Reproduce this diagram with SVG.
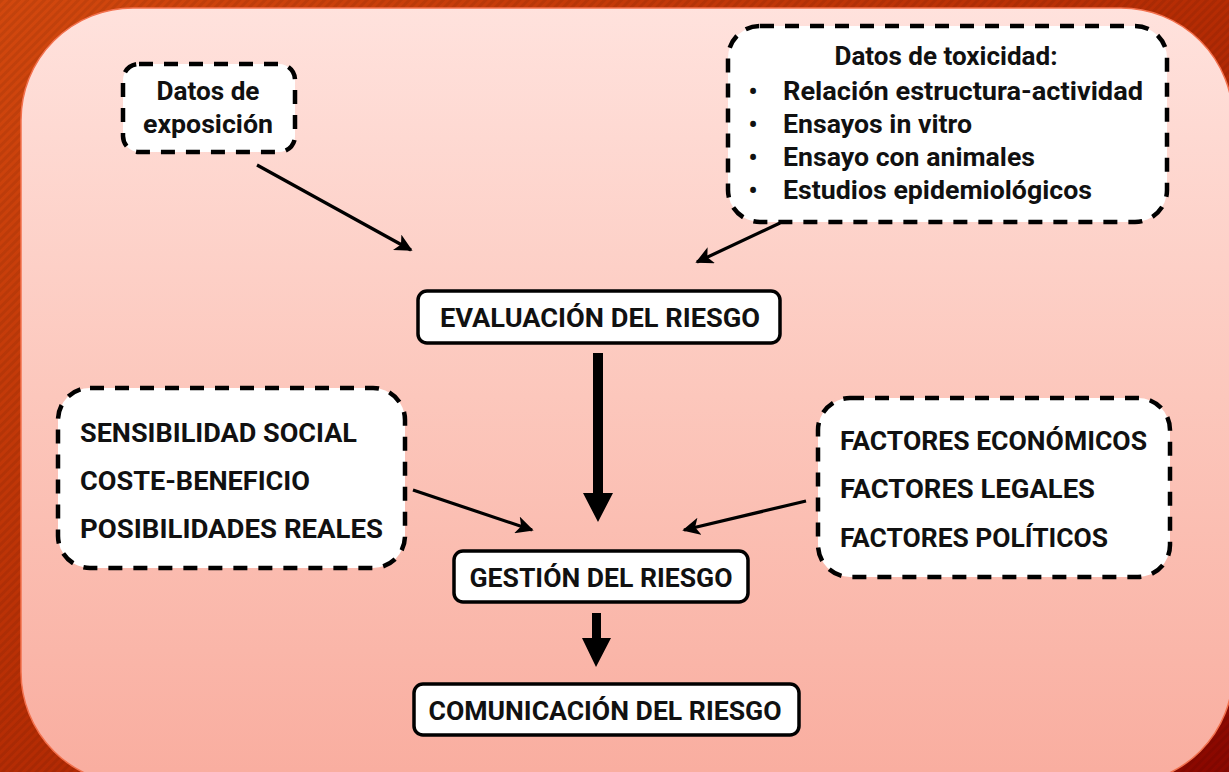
<svg xmlns="http://www.w3.org/2000/svg" width="1229" height="772" viewBox="0 0 1229 772">
  <defs>
    <linearGradient id="bgGrad" x1="0" y1="0" x2="1" y2="1">
      <stop offset="0" stop-color="#D2480E"/>
      <stop offset="0.5" stop-color="#B52C04"/>
      <stop offset="1" stop-color="#8A0700"/>
    </linearGradient>
    <pattern id="stripes" width="6" height="6" patternUnits="userSpaceOnUse" patternTransform="rotate(45)">
      <rect width="3" height="6" fill="#000" fill-opacity="0.07"/>
    </pattern>
    <linearGradient id="panelGrad" x1="0" y1="0" x2="0" y2="1">
      <stop offset="0" stop-color="#FFE2DD"/>
      <stop offset="0.5" stop-color="#FCC7BC"/>
      <stop offset="1" stop-color="#F9AD9F"/>
    </linearGradient>
    <marker id="arr" viewBox="0 0 10 10" refX="9" refY="5" markerWidth="5.5" markerHeight="5.5" markerUnits="strokeWidth" orient="auto">
      <path d="M0,0 L10,5 L0,10 L2.5,5 Z" fill="#000"/>
    </marker>
    <style>
      .txt { font-family: Roboto, "Liberation Sans", sans-serif; font-weight: 700; fill: #111; font-size: 25px; }
      .dash { fill: #fff; stroke: #000; stroke-width: 4.5; stroke-dasharray: 14 11; }
      .solid { fill: #fff; stroke: #000; stroke-width: 3.5; }
      .conn { stroke: #000; stroke-width: 3.2; fill: none; marker-end: url(#arr); }
    </style>
  </defs>

  <rect x="0" y="0" width="1229" height="772" fill="url(#bgGrad)"/>
  <rect x="0" y="0" width="1229" height="772" fill="url(#stripes)"/>
  <rect x="21" y="8" width="1212" height="776" rx="112" ry="112" fill="url(#panelGrad)" stroke="#F2714E" stroke-width="1.5"/>

  <g id="connectors">
    <line class="conn" x1="257" y1="165" x2="411" y2="250"/>
    <line class="conn" x1="780" y1="223" x2="697" y2="262"/>
    <line class="conn" x1="413" y1="490" x2="532" y2="530"/>
    <line class="conn" x1="806" y1="501" x2="684" y2="530"/>
    <path d="M593,353 H603 V493 H613 L598,522 L583,493 H593 Z" fill="#000"/>
    <path d="M592,613 H601 V638 H611 L596,667 L582,638 H592 Z" fill="#000"/>
  </g>

  <g id="exposicion">
    <rect class="dash" x="123" y="64" width="172" height="88" rx="16"/>
    <text class="txt" x="208" y="100" text-anchor="middle" font-size="24" textLength="103" lengthAdjust="spacingAndGlyphs">Datos de</text>
    <text class="txt" x="208" y="133" text-anchor="middle" font-size="24" textLength="130" lengthAdjust="spacingAndGlyphs">exposición</text>
  </g>

  <g id="toxicidad">
    <rect class="dash" x="728" y="26" width="439" height="196" rx="32"/>
    <text class="txt" x="946" y="65" text-anchor="middle" textLength="223" lengthAdjust="spacingAndGlyphs">Datos de toxicidad:</text>
    <g class="txt">
      <text x="753" y="100" text-anchor="middle">•</text>
      <text x="753" y="133" text-anchor="middle">•</text>
      <text x="753" y="166" text-anchor="middle">•</text>
      <text x="753" y="199" text-anchor="middle">•</text>
    </g>
    <text class="txt" x="783" y="100" textLength="360" lengthAdjust="spacingAndGlyphs">Relación estructura-actividad</text>
    <text class="txt" x="783" y="133" textLength="189" lengthAdjust="spacingAndGlyphs">Ensayos in vitro</text>
    <text class="txt" x="783" y="166" textLength="252" lengthAdjust="spacingAndGlyphs">Ensayo con animales</text>
    <text class="txt" x="783" y="199" textLength="309" lengthAdjust="spacingAndGlyphs">Estudios epidemiológicos</text>
  </g>

  <g id="evaluacion">
    <rect class="solid" x="418" y="291" width="362" height="52" rx="9"/>
    <text class="txt" x="600" y="327" text-anchor="middle" textLength="320" lengthAdjust="spacingAndGlyphs">EVALUACIÓN DEL RIESGO</text>
  </g>

  <g id="social">
    <rect class="dash" x="58" y="388" width="347" height="180" rx="32"/>
    <text class="txt" x="80" y="442" textLength="277" lengthAdjust="spacingAndGlyphs">SENSIBILIDAD SOCIAL</text>
    <text class="txt" x="80" y="490" textLength="230" lengthAdjust="spacingAndGlyphs">COSTE-BENEFICIO</text>
    <text class="txt" x="80" y="538" textLength="303" lengthAdjust="spacingAndGlyphs">POSIBILIDADES REALES</text>
  </g>

  <g id="factores">
    <rect class="dash" x="818" y="398" width="352" height="179" rx="32"/>
    <text class="txt" x="840" y="450" textLength="307" lengthAdjust="spacingAndGlyphs">FACTORES ECONÓMICOS</text>
    <text class="txt" x="840" y="498" textLength="255" lengthAdjust="spacingAndGlyphs">FACTORES LEGALES</text>
    <text class="txt" x="840" y="547" textLength="268" lengthAdjust="spacingAndGlyphs">FACTORES POLÍTICOS</text>
  </g>

  <g id="gestion">
    <rect class="solid" x="454" y="551" width="294" height="51" rx="9"/>
    <text class="txt" x="601" y="587" text-anchor="middle" textLength="263" lengthAdjust="spacingAndGlyphs">GESTIÓN DEL RIESGO</text>
  </g>

  <g id="comunicacion">
    <rect class="solid" x="414" y="684" width="385" height="51" rx="9"/>
    <text class="txt" x="605" y="720" text-anchor="middle" textLength="353" lengthAdjust="spacingAndGlyphs">COMUNICACIÓN DEL RIESGO</text>
  </g>
</svg>
